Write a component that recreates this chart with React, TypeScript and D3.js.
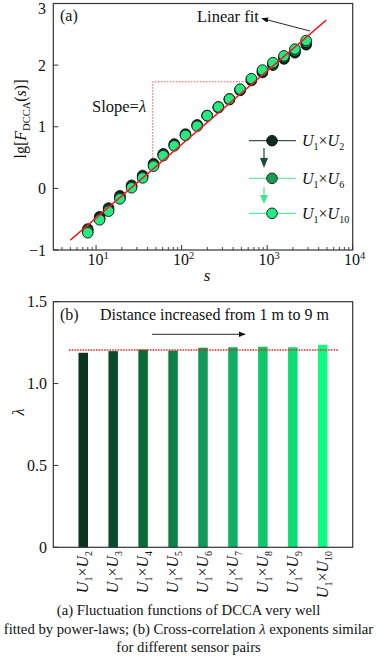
import React from "react";
import * as d3 from "d3";

// ---------- data ----------
const sValues = [8, 11, 14, 19, 26, 35, 47, 61, 82, 111, 152, 199, 269, 362, 483, 655, 881, 1169, 1572, 2113, 2858];
const fU1U2 = [-0.66, -0.46, -0.32, -0.12, 0.05, 0.21, 0.40, 0.56, 0.72, 0.88, 1.03, 1.18, 1.31, 1.44, 1.59, 1.75, 1.88, 2.0, 2.1, 2.2, 2.33];
const fU1U6 = [-0.69, -0.49, -0.35, -0.15, 0.03, 0.19, 0.38, 0.55, 0.7, 0.87, 1.02, 1.18, 1.32, 1.45, 1.6, 1.77, 1.9, 2.02, 2.13, 2.23, 2.37];
const fU1U10 = [-0.72, -0.51, -0.37, -0.17, 0.01, 0.17, 0.36, 0.53, 0.69, 0.86, 1.01, 1.18, 1.32, 1.45, 1.61, 1.78, 1.92, 2.04, 2.15, 2.26, 2.4];
const fitS = [5, 4900];
const fitF = [-0.84, 2.73];
const guideS = [46, 46, 568];
const guideF = [0.45, 1.73, 1.73];
const yTicksA = [-1, 0, 1, 2, 3];
const xDecades = [1, 2, 3, 4];

const pairIdx = [2, 3, 4, 5, 6, 7, 8, 9, 10];
const lambdaVals = [1.188, 1.198, 1.208, 1.202, 1.219, 1.222, 1.225, 1.222, 1.237];
const lambdaRef = 1.205;
const yTicksB = [0, 0.5, 1.0, 1.5];
const yTickLabelsB = ["0", "0.5", "1.0", "1.5"];
const barColors = ["#0a3320", "#094a2a", "#0b6b37", "#0d8148", "#109a58", "#0eb062", "#0fc76b", "#0bdd76", "#14f983"];

const seriesColors = ["#0b2e1c", "#1a9e55", "#25ea82"];
const legendLineColors = ["#3d5a48", "#6ee6a6", "#5ee8a0"];
const legendLabels = ["2", "6", "10"];

const captionLines = [
  "(a) Fluctuation functions of DCCA very well",
  "fitted by power-laws; (b) Cross-correlation \u03bb exponents similar",
  "for different sensor pairs",
];

const FONT = "Liberation Serif";

export default function App() {
  // panel a
  const L = 53.3, R = 352.7;
  const x = d3.scaleLog().domain([Math.pow(10, 0.5), 1e4]).range([L, R]);
  const y = d3.scaleLinear().domain([-1, 3]).range([250, 3.5]);
  const line = d3.line<[number, number]>().x((d) => x(d[0])).y((d) => y(d[1]));

  const minorTicks: number[] = [];
  for (let e = 0; e < 4; e++) {
    for (let m = 2; m <= 9; m++) {
      const v = m * Math.pow(10, e);
      if (v >= Math.pow(10, 0.5) && v <= 1e4) minorTicks.push(v);
    }
  }

  const series = [fU1U2, fU1U6, fU1U10];

  // panel b
  const yb = d3.scaleLinear().domain([0, 1.5]).range([547.3, 301.7]);
  const xb = d3.scalePoint<number>().domain(pairIdx).range([L, R]).padding(1);
  const barW = 9.5;

  const legendY = [140.7, 178.3, 213.3];
  const ts = { fontFamily: FONT };

  return (
    <svg
      width={377}
      height={659}
      style={{ position: "absolute", left: 0, top: 0, background: "#fff", fontFamily: FONT }}
    >
      <defs>
        <marker id="arrBlack" viewBox="0 0 10 10" refX="9" refY="5" markerWidth="7" markerHeight="7" orient="auto" markerUnits="userSpaceOnUse">
          <path d="M0,1 L10,5 L0,9 Z" fill="#111" />
        </marker>
        <clipPath id="clipA">
          <rect x={L} y={3.5} width={R - L} height={250 - 3.5} />
        </clipPath>
      </defs>

      {/* ===== Panel a ===== */}
      <rect x={L} y={3.5} width={R - L} height={250 - 3.5} fill="none" stroke="#333" strokeWidth={1.2} />
      {yTicksA.map((t) => (
        <g key={"ya" + t}>
          <line x1={L} x2={L + 5} y1={y(t)} y2={y(t)} stroke="#333" strokeWidth={1} />
          <text style={ts} x={46} y={t === 3 ? 8.5 : y(t)} dy="0.35em" textAnchor="end" fontSize={16} fill="#111">
            {t < 0 ? "\u2212" + Math.abs(t) : t}
          </text>
        </g>
      ))}
      {xDecades.map((e) => (
        <g key={"xd" + e}>
          <line x1={x(Math.pow(10, e))} x2={x(Math.pow(10, e))} y1={250} y2={245} stroke="#333" />
          <text style={ts} x={x(Math.pow(10, e)) + 2} y={265} textAnchor="middle" fontSize={16} fill="#111">
            10<tspan dy={-6} fontSize={10.5}>{e}</tspan>
          </text>
        </g>
      ))}
      {minorTicks.map((v) => (
        <line key={"mn" + v} x1={x(v)} x2={x(v)} y1={250} y2={247} stroke="#333" strokeWidth={0.9} />
      ))}
      <text style={ts} x={207} y={281} textAnchor="middle" fontSize={17} fontStyle="italic" fill="#111">s</text>
      <text style={ts} transform="translate(26,119) rotate(-90)" textAnchor="middle" fontSize={16} fill="#111">
        lg[<tspan fontStyle="italic">F</tspan>
        <tspan fontSize={10.5} dy={4}>DCCA</tspan>
        <tspan dy={-4}>(</tspan>
        <tspan fontStyle="italic">s</tspan>)]
      </text>

      {/* dotted guide */}
      <path
        d={line(guideS.map((s, i) => [s, guideF[i]]) as [number, number][]) || ""}
        fill="none"
        stroke="#e04040"
        strokeWidth={0.9}
        strokeDasharray="1.5,1.5"
      />
      <text style={ts} x={92} y={112} fontSize={16.5} fill="#111">
        Slope=<tspan fontStyle="italic">{"\u03bb"}</tspan>
      </text>

      {/* points */}
      <g clipPath="url(#clipA)">
        {series.map((ser, si) =>
          ser.map((v, i) => (
            <circle
              key={"p" + si + "-" + i}
              cx={x(sValues[i])}
              cy={y(v)}
              r={5.3}
              fill={seriesColors[si]}
              stroke="#111"
              strokeWidth={0.9}
            />
          ))
        )}
        <path
          d={line(fitS.map((s, i) => [s, fitF[i]]) as [number, number][]) || ""}
          fill="none"
          stroke="#ee1c1c"
          strokeWidth={1.4}
        />
      </g>

      <text style={ts} x={60} y={21} fontSize={16} fill="#111">(a)</text>
      <text style={ts} x={197} y={22} fontSize={16.5} fill="#111">Linear fit</text>
      <line x1={310} y1={31} x2={262} y2={18.5} stroke="#111" strokeWidth={0.9} markerEnd="url(#arrBlack)" />

      {/* legend */}
      {legendY.map((ly, i) => (
        <g key={"lg" + i}>
          <line x1={249} x2={296} y1={ly} y2={ly} stroke={legendLineColors[i]} strokeWidth={1.2} />
          <circle cx={272} cy={ly} r={5.3} fill={seriesColors[i]} stroke="#111" strokeWidth={0.9} />
          <text style={ts} x={302} y={ly} dy="0.35em" fontSize={16} fill="#111">
            <tspan fontStyle="italic">U</tspan>
            <tspan fontSize={10} dy={4}>1</tspan>
            <tspan dy={-4}>{"\u00d7"}</tspan>
            <tspan fontStyle="italic">U</tspan>
            <tspan fontSize={10} dy={4}>{legendLabels[i]}</tspan>
          </text>
        </g>
      ))}
      <line x1={264} x2={264} y1={148} y2={161} stroke="#1f4a33" strokeWidth={1.2} />
      <path d="M260,158 L268,158 L264,168 Z" fill="#1f4a33" />
      <line x1={264} x2={264} y1={187} y2={198} stroke="#3ee88a" strokeWidth={1.2} />
      <path d="M260,195 L268,195 L264,204 Z" fill="#3ee88a" />

      {/* ===== Panel b ===== */}
      {pairIdx.map((p, i) => (
        <rect
          key={"bar" + p}
          x={(xb(p) as number) - barW / 2}
          y={yb(lambdaVals[i])}
          width={barW}
          height={yb(0) - yb(lambdaVals[i])}
          fill={barColors[i]}
        />
      ))}
      <rect x={L} y={301.7} width={R - L} height={547.3 - 301.7} fill="none" stroke="#333" strokeWidth={1.2} />
      {yTicksB.map((t, i) => (
        <g key={"yb" + t}>
          <line x1={L} x2={L + 5} y1={yb(t)} y2={yb(t)} stroke="#333" />
          <text style={ts} x={47} y={yb(t)} dy="0.35em" textAnchor="end" fontSize={16} fill="#111">
            {yTickLabelsB[i]}
          </text>
        </g>
      ))}
      <line x1={69} x2={338} y1={yb(lambdaRef)} y2={yb(lambdaRef)} stroke="#ee2222" strokeWidth={1.3} strokeDasharray="1.5,1.2" />
      <text style={ts} transform="translate(24,412) rotate(-90)" textAnchor="middle" fontSize={16} fontStyle="italic" fill="#111">
        {"\u03bb"}
      </text>
      <text style={ts} x={60} y={320} fontSize={16} fill="#111">(b)</text>
      <text style={ts} x={100} y={320} fontSize={16} fill="#111">Distance increased from 1 m to 9 m</text>
      <line x1={152} x2={245} y1={334.3} y2={334.3} stroke="#111" strokeWidth={0.9} markerEnd="url(#arrBlack)" />

      {pairIdx.map((p) => (
        <text
          key={"xl" + p}
          style={ts}
          transform={`translate(${(xb(p) as number) + 5},551) rotate(-90)`}
          textAnchor="end"
          fontSize={16}
          fill="#111"
        >
          <tspan fontStyle="italic">U</tspan>
          <tspan fontSize={10} dy={4}>1</tspan>
          <tspan dy={-4}>{"\u00d7"}</tspan>
          <tspan fontStyle="italic">U</tspan>
          <tspan fontSize={10} dy={4}>{p}</tspan>
        </text>
      ))}

      {/* caption */}
      {captionLines.map((c, i) => (
        <text style={ts} key={"cap" + i} x={188.5} y={615 + i * 18.5} textAnchor="middle" fontSize={14.7} fill="#111">
          {i === 1 ? (
            <>
              fitted by power-laws; (b) Cross-correlation <tspan fontStyle="italic">{"\u03bb"}</tspan> exponents similar
            </>
          ) : (
            c
          )}
        </text>
      ))}
    </svg>
  );
}
